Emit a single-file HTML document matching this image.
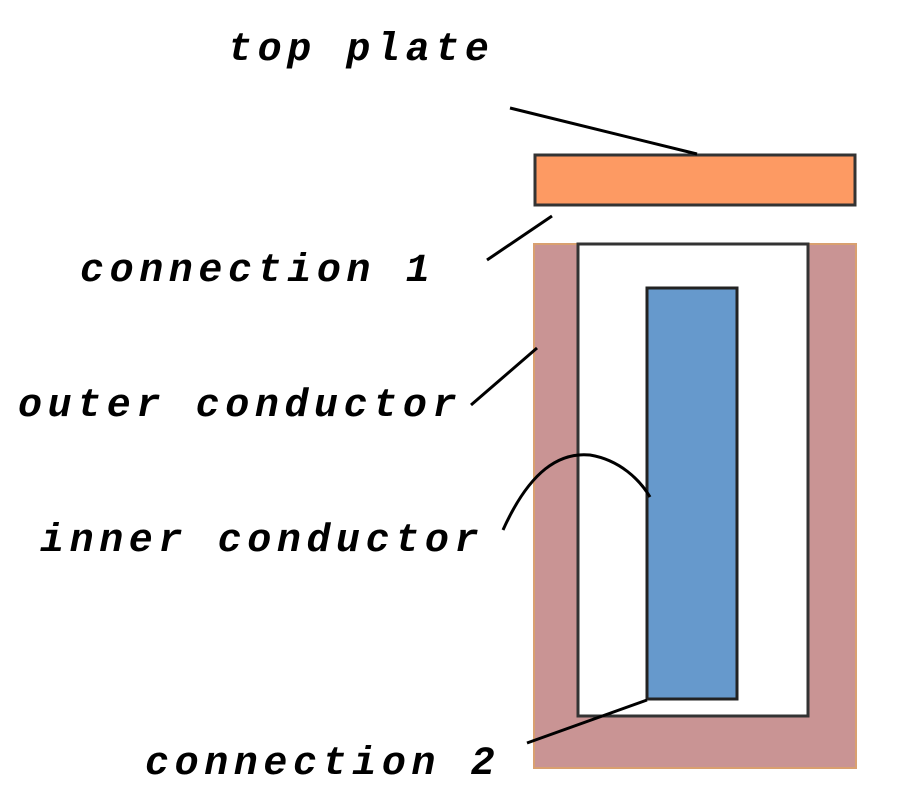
<!DOCTYPE html>
<html><head><style>
body{margin:0;background:#fff;}
svg text{font-family:"Liberation Mono",monospace;font-style:italic;font-weight:bold;font-size:40px;letter-spacing:5.6px;fill:#000;}
</style></head><body>
<svg width="900" height="800" viewBox="0 0 900 800">
<rect x="534" y="244" width="322" height="524" fill="#c99494" stroke="#d9a070" stroke-width="2"/>
<rect x="578" y="244" width="230" height="472" fill="#fff" stroke="#333" stroke-width="3"/>
<rect x="647" y="288" width="90" height="411" fill="#6699cc" stroke="#222" stroke-width="3"/>
<rect x="535" y="155" width="320" height="50" fill="#fd9a63" stroke="#333" stroke-width="3"/>
<g stroke="#000" stroke-width="3" fill="none">
<line x1="510" y1="108" x2="697" y2="154"/>
<line x1="487" y1="260" x2="552" y2="216"/>
<line x1="471" y1="405" x2="537" y2="348"/>
<path d="M503 530 C530 470 560 452 590 455 C620 460 640 480 650 497"/>
<line x1="527" y1="743" x2="647" y2="700"/>
</g>
<text x="228" y="60">top plate</text>
<text x="80" y="281">connection 1</text>
<text x="18" y="416">outer conductor</text>
<text x="40" y="551">inner conductor</text>
<text x="145" y="774">connection 2</text>
</svg>
</body></html>
